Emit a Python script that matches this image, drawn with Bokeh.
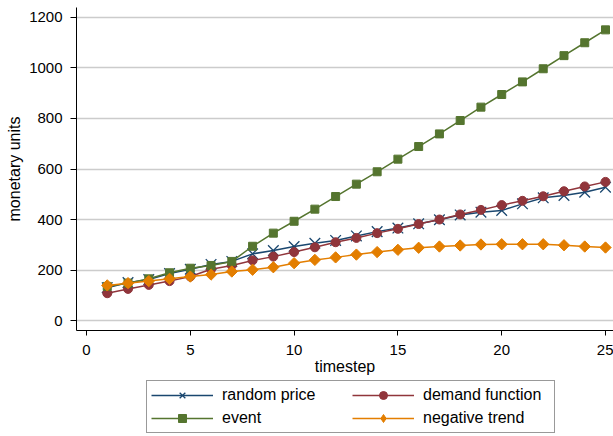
from bokeh.plotting import figure
from bokeh.models import Legend, LegendItem, Range1d, FixedTicker
from bokeh.layouts import column
from bokeh.embed import file_html
from bokeh.resources import INLINE

timestep = list(range(1, 26))
random_price = [130, 150, 162, 186, 203, 222, 234, 264, 277, 293, 306, 317, 335, 352, 366,
                383, 399, 418, 429, 436, 462, 486, 495, 508, 528]
demand_function = [108, 125, 141, 156, 174, 203, 218, 238, 253, 271, 290, 310, 327, 346, 363,
                   382, 400, 420, 438, 457, 474, 492, 512, 531, 549]
event = [135, 148, 165, 189, 207, 218, 234, 294, 346, 393, 441, 491, 540, 589, 639,
         689, 739, 792, 845, 895, 945, 997, 1049, 1100, 1151]
negative_trend = [139, 148, 156, 165, 174, 182, 194, 201, 211, 227, 240, 250, 261, 271, 280,
                  288, 293, 297, 301, 302, 302, 302, 298, 293, 289]
x_ticks = [0, 5, 10, 15, 20, 25]
y_ticks = [0, 200, 400, 600, 800, 1000, 1200]

FONT = "Liberation Sans"

p = figure(width=613, height=380, output_backend="svg", toolbar_location=None,
           x_range=Range1d(-0.4817, 25.385), y_range=Range1d(-39.6, 1239.6),
           min_border_left=76, min_border_right=0, min_border_top=7, min_border_bottom=50)
p.outline_line_color = None
p.background_fill_color = "white"
p.border_fill_color = "white"

p.xgrid.grid_line_color = None
p.ygrid.grid_line_color = "#cccccc"
p.ygrid.grid_line_width = 1.5
p.ygrid.ticker = FixedTicker(ticks=y_ticks)

for ax in (p.xaxis[0], p.yaxis[0]):
    ax.axis_line_color = "black"
    ax.axis_line_width = 1
    ax.major_tick_line_color = "black"
    ax.minor_tick_line_color = None
    ax.major_tick_in = 0
    ax.major_label_text_font = FONT
    ax.major_label_text_font_size = "15px"
    ax.major_label_text_color = "black"
    ax.axis_label_text_font = FONT
    ax.axis_label_text_font_size = "16px"
    ax.axis_label_text_font_style = "normal"
    ax.axis_label_text_color = "black"

p.xaxis.ticker = FixedTicker(ticks=x_ticks)
p.yaxis.ticker = FixedTicker(ticks=y_ticks)
p.xaxis.major_tick_out = 5
p.yaxis.major_tick_out = 6
p.xaxis.major_label_standoff = 9
p.yaxis.major_label_standoff = 8
p.xaxis.axis_label = "timestep"
p.yaxis.axis_label = "monetary units"
p.xaxis.axis_label_standoff = 0
p.yaxis.axis_label_standoff = 3
p.yaxis.major_label_orientation = "horizontal"

# name, values, colour, plot marker, size, angle, legend marker, legend size
series = [
    ("random price", random_price, "#1a476f", "x", 15, 0.0, "x", 15),
    ("demand function", demand_function, "#90353b", "circle", 9, 0.0, "circle", 9),
    ("event", event, "#55752f", "square", 8, 0.0, "square", 8),
    ("negative trend", negative_trend, "#e37e00", "square", 8, 0.785398, "diamond", 13),
]

# legend panel as its own small figure (its data lies outside its ranges)
lg = figure(width=613, height=56, output_backend="svg", toolbar_location=None,
            x_range=Range1d(0, 1), y_range=Range1d(0, 1),
            min_border_left=0, min_border_right=0, min_border_top=0, min_border_bottom=0)
lg.axis.visible = False
lg.grid.visible = False
lg.outline_line_color = None
lg.background_fill_color = "white"
lg.border_fill_color = "white"

items = []
for name, ys, col, marker, size, ang, lmarker, lsize in series:
    p.line(timestep, ys, line_color=col, line_width=1.5)
    ln = lg.line(timestep, ys, line_color=col, line_width=1.5)
    if marker == "x":
        p.scatter(timestep, ys, marker="x", size=size, line_color=col, line_width=1.3)
        sc = lg.scatter(timestep, ys, marker="x", size=lsize, line_color=col, line_width=1.3)
    else:
        p.scatter(timestep, ys, marker=marker, size=size, angle=ang,
                  fill_color=col, line_color=col)
        sc = lg.scatter(timestep, ys, marker=lmarker, size=lsize,
                        fill_color=col, line_color=col)
    items.append(LegendItem(label=name, renderers=[ln, sc]))

legend = Legend(items=items, orientation="horizontal", nrows=2, location=(70, 3),
                label_text_font=FONT, label_text_font_size="16px", label_text_color="black",
                glyph_width=62, glyph_height=20, label_height=20, label_width=127,
                label_standoff=9, spacing=3, padding=4, margin=0,
                border_line_color="#333333", border_line_width=1,
                background_fill_color="white")
lg.add_layout(legend, "center")

layout = column(p, lg, spacing=0)
open("out.html", "w").write(file_html(layout, INLINE))
